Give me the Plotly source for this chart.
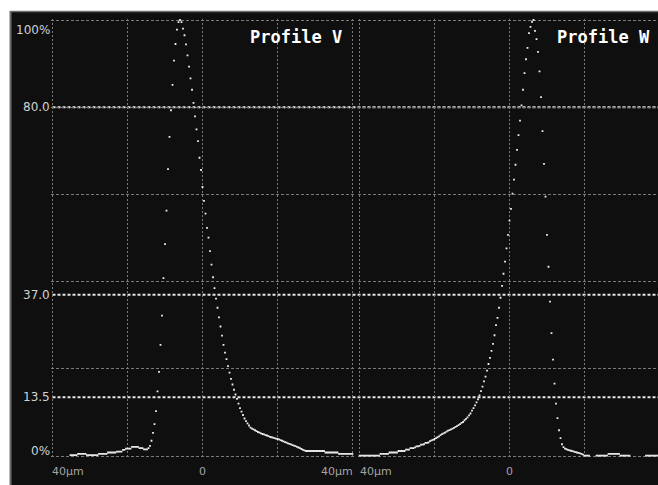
import numpy as np
import plotly.graph_objects as go

# ---------------------------------------------------------------------------
# Beam profile data: intensity (% of peak) sampled every 0.4 µm over ±40 µm
# ---------------------------------------------------------------------------
position_um = np.linspace(-40, 40, 201)

profile_v = [
    None, None, None, None, None, None, None, None, None, None, None, None,
    0.2, 0.2, 0.2, 0.2, 0.2,
    0.5, 0.5, 0.5, 0.5, 0.5, 0.5,
    0.2, 0.2, 0.2, 0.2, 0.2, 0.2, 0.2, 0.2,
    0.5, 0.5, 0.5, 0.5, 0.5, 0.5,
    0.8, 0.8, 0.8, 0.8, 0.8, 0.8,
    1.0, 1.0, 1.0, 1.0,
    1.4, 1.4,
    1.7, 1.7, 1.7, 1.7,
    2.1, 2.1, 2.1, 2.1, 2.1,
    1.8, 1.8, 1.8,
    1.5, 1.5, 1.5,
    1.8, 2.3, 3.5, 5.3, 7.3, 10.3, 14.8, 19.3, 25.5, 32.2,
    40.8, 48.6, 56.3, 65.8, 73.2, 79.3, 85.1, 90.7, 94.5, 97.8,
    99.5, 100.0, 99.5, 98.0, 96.5, 94.4, 91.9, 89.3, 86.6, 84.0,
    81.0, 77.9, 74.9, 72.2, 68.4, 65.6, 61.7, 58.5, 55.6, 52.3,
    50.1, 47.0, 43.9, 41.0, 38.5, 36.1, 34.0, 31.8, 29.7, 27.6,
    25.5, 23.7, 22.2, 20.6, 19.1, 17.7, 16.4, 15.2, 14.1, 13.1,
    12.0, 11.0, 10.2, 9.4, 8.6, 8.0, 7.5, 7.0, 6.5, 6.3,
    6.1, 5.9, 5.7, 5.5, 5.35, 5.2, 5.05, 4.95, 4.8, 4.7,
    4.55, 4.4, 4.3, 4.2, 4.1, 4.0, 3.9, 3.8, 3.65, 3.5,
    3.35, 3.2, 3.05, 2.9, 2.8, 2.65, 2.5, 2.4, 2.25, 2.1,
    1.95, 1.8, 1.6, 1.4, 1.3,
    1.15, 1.15, 1.15, 1.15, 1.15, 1.15, 1.15, 1.15, 1.15, 1.15, 1.15, 1.15, 1.15,
    0.8, 0.8, 0.8, 0.8, 0.8, 0.8, 0.8, 0.8, 0.8,
    0.5, 0.5, 0.5, 0.5, 0.5, 0.5, 0.5, 0.5, 0.5, 0.5,
]

profile_w = [
    0.1, 0.1, 0.1, 0.1, 0.1, 0.1, 0.1, 0.1, 0.1, 0.1, 0.1, 0.1, 0.1, 0.1,
    0.5, 0.5, 0.5, 0.5, 0.5, 0.5,
    0.8, 0.8, 0.8, 0.8, 0.8, 0.8,
    1.15, 1.15, 1.15, 1.15, 1.15,
    1.45, 1.45, 1.45,
    1.8, 1.8, 1.8,
    2.0, 2.2, 2.2, 2.3, 2.6, 2.6, 2.7, 3.0, 3.0, 3.1,
    3.4, 3.6, 3.7, 3.9, 4.1, 4.3, 4.5, 4.8, 5.0, 5.2,
    5.35, 5.6, 5.8, 5.95, 6.1, 6.3, 6.45, 6.7, 6.85, 7.1,
    7.3, 7.6, 7.8, 8.2, 8.5, 8.85, 9.3, 9.75, 10.4, 11.0,
    11.6, 12.3, 13.0, 13.9, 14.9, 15.9, 17.1, 18.2, 19.6, 21.1,
    22.5, 24.1, 25.7, 27.7, 30.0, 31.7, 34.0, 36.3, 39.0, 41.8,
    44.6, 47.6, 50.7, 54.0, 56.7, 60.2, 63.4, 66.8, 70.2, 73.6,
    76.9, 80.4, 84.0, 87.8, 91.0, 93.6, 97.0, 98.4, 99.6, 100.0,
    97.5, 95.6, 92.7, 88.2, 82.3, 74.5, 67.0, 59.5, 50.7, 43.4,
    35.4, 28.2, 22.1, 16.6, 12.0, 8.7, 5.9, 4.1, 2.7, 2.05,
    1.7, 1.55, 1.4, 1.3, 1.2, 1.1, 1.0, 0.9, 0.8, 0.7,
    0.6, 0.5, 0.3,
    0.1, 0.1, 0.1, 0.1,
    None, None, None, None,
    0.1, 0.1, 0.1, 0.1, 0.1, 0.1, 0.1, 0.1,
    0.5, 0.5, 0.5, 0.5, 0.5, 0.5, 0.5, 0.5,
    0.1, 0.1, 0.1, 0.1, 0.1, 0.1, 0.1,
    None, None, None, None, None, None, None, None, None, None,
    0.1, 0.1, 0.1, 0.1, 0.1, 0.1, 0.1, 0.1, 0.1, 0.1,
]

panel_titles = ["Profile V", "Profile W"]
x_label_values = [-40, 0, 40]
x_label_text = ["40µm", "0", "40µm"]
y_label_values = [100, 80, 37, 13.5, 0]
y_label_text = ["100%", "80.0", "37.0", "13.5", "0%"]
level_lines = [80, 37, 13.5]
grid_levels = [0, 20, 40, 60, 80, 100]
grid_positions = [-40, -20, 0, 20, 40]

# ---------------------------------------------------------------------------
# Geometry (pixels) and styling
# ---------------------------------------------------------------------------
W, H = 658, 485
BG = "#0f0f0f"
Y0_PX, Y100_PX = 456, 20          # rows of 0 % and 100 %
PX_PER_PCT = (Y0_PX - Y100_PX) / 100
PX_PER_UM = 3.75
V_LEFT, W_LEFT = 52.5, 359.5      # left edge (-40 µm) of each panel
PAD_UM, PAD_PCT = 0.3, 0.3

y_range = [-PAD_PCT, 100 + PAD_PCT]
y_domain = [1 - (Y0_PX + PAD_PCT * PX_PER_PCT) / H,
            1 - (Y100_PX - PAD_PCT * PX_PER_PCT) / H]

xv_range = [-40 - PAD_UM, 40 + PAD_UM]
xv_domain = [(V_LEFT - PAD_UM * PX_PER_UM) / W,
             (V_LEFT + 80 * PX_PER_UM + PAD_UM * PX_PER_UM) / W]
xw_range = [-40 - PAD_UM, -40 + (W - W_LEFT) / PX_PER_UM]
xw_domain = [(W_LEFT - PAD_UM * PX_PER_UM) / W, 1]


def px_x(p):
    return p / W


def px_y(p):
    return 1 - p / H


fig = go.Figure()

for prof, xa, ya in [(profile_v, "x", "y"), (profile_w, "x2", "y2")]:
    fig.add_trace(go.Scatter(
        x=position_um, y=prof, xaxis=xa, yaxis=ya,
        mode="markers",
        marker=dict(symbol="square", size=1.8, color="#eeeeee",
                    line=dict(width=0)),
        hoverinfo="skip", showlegend=False,
    ))

common = dict(showline=False, zeroline=False, showticklabels=False,
              ticks="", fixedrange=True)
xgrid = dict(tickvals=grid_positions, showgrid=True, gridcolor="#7a7a7a",
             gridwidth=1, griddash="2px,2px")
ygrid = dict(tickvals=grid_levels, showgrid=True, gridcolor="#7a7a7a",
             gridwidth=1, griddash="3px,2px")

fig.update_layout(
    width=W, height=H,
    margin=dict(l=0, r=0, t=0, b=0),
    paper_bgcolor="#ffffff",
    plot_bgcolor="rgba(0,0,0,0)",
    xaxis=dict(domain=xv_domain, range=xv_range, anchor="y", **xgrid, **common),
    yaxis=dict(domain=y_domain, range=y_range, anchor="x", **ygrid, **common),
    xaxis2=dict(domain=xw_domain, range=xw_range, anchor="y2", **xgrid, **common),
    yaxis2=dict(domain=y_domain, range=y_range, anchor="x2", **ygrid, **common),
)

shapes = [
    # dark display area with a grey frame on top and left
    dict(type="rect", xref="paper", yref="paper", x0=px_x(10), x1=1,
         y0=0, y1=px_y(11), fillcolor=BG, line=dict(width=0), layer="below"),
    dict(type="line", xref="paper", yref="paper", x0=px_x(10.5), x1=px_x(10.5),
         y0=0, y1=px_y(11), line=dict(color="#6e6e6e", width=2), layer="below"),
    dict(type="line", xref="paper", yref="paper", x0=px_x(10), x1=1,
         y0=px_y(11.5), y1=px_y(11.5), line=dict(color="#6e6e6e", width=1.5),
         layer="below"),
]
# bright reference levels spanning both panels
for lvl in level_lines:
    shapes.append(dict(type="line", xref="paper", yref="y",
                       x0=px_x(V_LEFT), x1=1, y0=lvl, y1=lvl,
                       line=dict(color="#e6e6e6", width=2, dash="3px,2px"),
                       layer="below"))
fig.update_layout(shapes=shapes)

ann = []
label_font = dict(family="DejaVu Sans", size=12, color="#d2d2d2")
xlab_font = dict(family="DejaVu Sans", size=11, color="#a4a4a4")

for txt, val in zip(y_label_text, y_label_values):
    shift = -10 if val == 100 else (5 if val == 0 else 0)
    ann.append(dict(text=txt, xref="paper", yref="y", x=px_x(50), y=val,
                    xanchor="right", yanchor="middle", yshift=shift,
                    showarrow=False, font=label_font,
                    borderpad=0, borderwidth=0))

anchors = {-40: "left", 0: "center", 40: "right"}
for xa in ["x", "x2"]:
    for txt, val in zip(x_label_text, x_label_values):
        ann.append(dict(text=txt, xref=xa, yref="paper", x=val, y=px_y(471),
                        xanchor=anchors[val], yanchor="middle",
                        showarrow=False, font=xlab_font,
                        borderpad=0, borderwidth=0))

for title, right_px in zip(panel_titles, [342, 650]):
    ann.append(dict(text="<b>" + title + "</b>", xref="paper", yref="paper",
                    x=px_x(right_px), y=px_y(37), xanchor="right",
                    yanchor="middle", showarrow=False,
                    font=dict(family="DejaVu Sans Mono", size=17, color="#ffffff"),
                    borderpad=0, borderwidth=0))

fig.update_layout(annotations=ann)

fig.write_html("out.html")
